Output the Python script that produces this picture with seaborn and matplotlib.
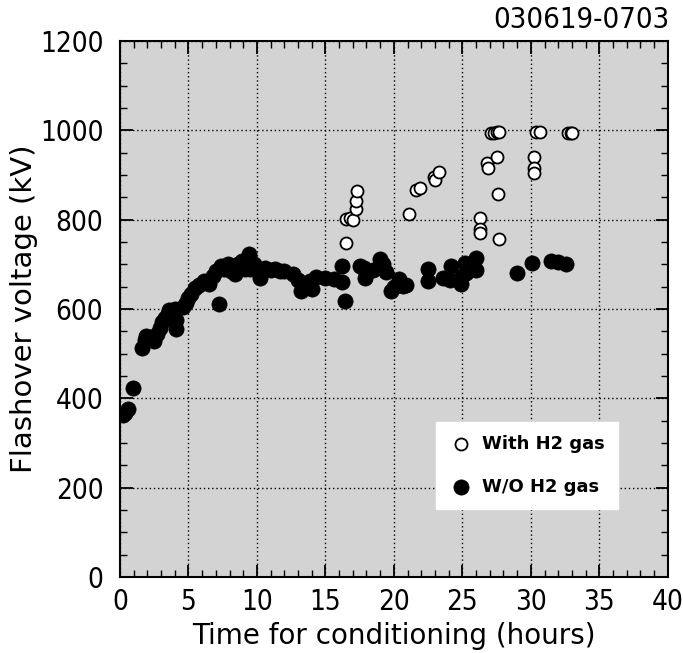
import numpy as np
import pandas as pd
import matplotlib
matplotlib.use("Agg")
import matplotlib.pyplot as plt
import seaborn as sns
from matplotlib.ticker import MultipleLocator
from matplotlib.font_manager import FontProperties, fontManager

sns.set_style("ticks")
plt.rcParams['font.family'] = ['DejaVu Sans']
plt.rcParams['text.color'] = 'black'
plt.rcParams['axes.labelcolor'] = 'black'
plt.rcParams['xtick.color'] = 'black'
plt.rcParams['ytick.color'] = 'black'

# W/O H2 gas (filled markers)
wo_hours = [0.2, 0.4, 0.6, 0.95,
            1.6, 1.8, 1.9, 2.1, 2.3, 2.5, 2.7, 2.9, 3.1, 3.25, 3.5, 3.6, 3.8, 4.0, 4.1, 4.1,
            4.6, 4.8, 5.0, 5.2, 5.5, 5.8, 6.1, 6.5, 6.8, 7.0, 7.2, 7.4, 7.6, 7.9, 8.1, 8.4,
            8.6, 8.9, 9.1, 9.4, 9.5, 9.8, 10.2, 10.6, 11.0, 11.3, 11.7, 12.0, 12.6, 13.0,
            13.2, 13.5, 13.9, 14.0, 14.3, 15.0, 15.6, 16.2, 16.2, 16.4, 17.5, 17.8, 17.9,
            18.0, 18.5, 19.0, 19.2, 19.4, 19.8, 20.0, 20.4, 20.7, 20.9,
            22.5, 22.5, 23.6, 24.1, 24.2, 24.9, 25.0, 25.2, 25.3, 26.0, 26.0,
            29.0, 30.1, 31.5, 32.0, 32.6]
wo_kv = [362, 368, 376, 423,
         513, 530, 540, 535, 538, 528, 545, 557, 570, 580, 590, 598, 580, 600, 575, 555,
         605, 613, 625, 634, 648, 655, 663, 656, 675, 685, 611, 697, 690, 700, 685, 678,
         700, 708, 690, 723, 690, 700, 670, 692, 688, 690, 685, 685, 678, 665,
         640, 655, 663, 645, 672, 670, 667, 697, 660, 618, 697, 692, 670,
         678, 688, 712, 700, 683, 640, 650, 667, 652, 655,
         690, 663, 670, 665, 697, 656, 675, 703, 680, 715, 688,
         681, 703, 708, 706, 701]

# With H2 gas (open markers)
w_hours = [16.5, 16.5, 16.8, 17.0, 17.2, 17.2, 17.3,
           21.1, 21.6, 21.9, 22.9, 23.0, 23.3,
           26.3, 26.3, 26.3, 26.8, 26.9, 27.1, 27.3, 27.5, 27.5, 27.6, 27.7, 27.7,
           30.2, 30.2, 30.2, 30.4, 30.7, 32.7, 32.9, 33.0]
w_kv = [748, 802, 805, 800, 825, 843, 865,
        813, 867, 872, 896, 890, 906,
        805, 780, 770, 928, 915, 995, 995, 940, 997, 858, 757, 997,
        940, 915, 905, 996, 996, 995, 995, 994]

x_ticks = [0, 5, 10, 15, 20, 25, 30, 35, 40]
y_ticks = [0, 200, 400, 600, 800, 1000, 1200]

df_wo = pd.DataFrame({"hours": wo_hours, "kv": wo_kv})
df_w = pd.DataFrame({"hours": w_hours, "kv": w_kv})

# narrow font for the numbers, if there is one
names = {f.name for f in fontManager.ttflist}
if "Liberation Sans Narrow" in names:
    def narrow(size):
        return FontProperties(family="Liberation Sans Narrow", size=size)
else:
    def narrow(size):
        return FontProperties(family="DejaVu Sans", stretch="condensed", size=size)

fig = plt.figure(figsize=(6.83, 6.53), dpi=100)
ax = fig.add_axes([0.1757, 0.1164, 0.802, 0.8206])
ax.set_facecolor("#d3d3d3")

sns.scatterplot(data=df_wo, x="hours", y="kv", ax=ax, color="black", edgecolor="black",
                s=120, linewidth=0.5, label="W/O H2 gas", zorder=3)
sns.scatterplot(data=df_w, x="hours", y="kv", ax=ax, color="white", edgecolor="black",
                s=75, linewidth=1.3, label="With H2 gas", zorder=4)

ax.set_xlim(0, 40)
ax.set_ylim(0, 1200)
ax.set_xticks(x_ticks)
ax.set_xticklabels([str(t) for t in x_ticks], fontproperties=narrow(20))
ax.set_yticks(y_ticks)
ax.set_yticklabels([str(t) for t in y_ticks], fontproperties=narrow(20))
ax.xaxis.set_minor_locator(MultipleLocator(1))
ax.yaxis.set_minor_locator(MultipleLocator(50))
ax.grid(True, which="major", color="black", linestyle=(0, (1, 2)), linewidth=1.0)
ax.tick_params(which="both", direction="in", top=True, right=True, color="black")
ax.tick_params(which="major", length=9, width=1.3)
ax.tick_params(axis="y", which="major", pad=12)
ax.tick_params(axis="x", which="major", pad=8)
ax.tick_params(which="minor", length=5, width=1.0)
for sp in ax.spines.values():
    sp.set_linewidth(1.5)
    sp.set_color("black")

ax.set_xlabel("Time for conditioning (hours)", fontsize=20, labelpad=4)
ax.set_ylabel("Flashover voltage (kV)", fontsize=21, labelpad=1)

handles, labels = ax.get_legend_handles_labels()
leg = ax.legend(handles[::-1], labels[::-1], loc="upper left", bbox_to_anchor=(0.576, 0.289),
                borderaxespad=0, frameon=True, fancybox=False, framealpha=1, edgecolor="white",
                prop={"weight": "bold", "size": 13}, borderpad=0.7, labelspacing=1.4,
                handlelength=1.4, handletextpad=0.5, markerscale=1.0)

fig.text(0.98, 0.97, "030619-0703", ha="right", va="center", fontproperties=narrow(21))

fig.savefig("out.png", dpi=100)
